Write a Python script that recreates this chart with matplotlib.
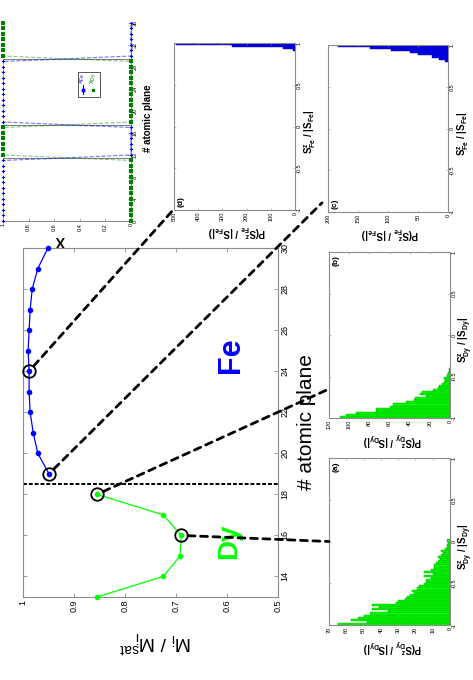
import numpy as np
import matplotlib
matplotlib.use('Agg')
import matplotlib.pyplot as plt
from matplotlib.patches import ConnectionPatch, Rectangle
from matplotlib.lines import Line2D

# ── style ────────────────────────────────────────────────────────────────────
plt.rcParams.update({
    'font.family':       'Liberation Sans',
    'mathtext.fontset':  'custom',
    'mathtext.rm':       'Liberation Sans',
    'mathtext.it':       'Liberation Sans:italic',
    'mathtext.bf':       'Liberation Sans:bold',
    'axes.edgecolor':    '#8c8c8c',
    'axes.linewidth':    0.8,
    'xtick.color':       '#8c8c8c',
    'ytick.color':       '#8c8c8c',
    'xtick.labelcolor':  'black',
    'ytick.labelcolor':  'black',
})

GREEN = (0, 1, 0)
BLUE = (0, 0, 1)
DKGREEN = '#008000'

# ── data: main profile M_i / M_i^sat ─────────────────────────────────────────
planes_dy = [13, 14, 15, 16, 17, 18]
m_dy = [0.855, 0.725, 0.692, 0.690, 0.725, 0.855]
planes_fe = [19, 20, 21, 22, 23, 24, 25, 26, 27, 28, 29, 30]
m_fe = [0.949, 0.971, 0.980, 0.986, 0.988, 0.988, 0.990, 0.988, 0.986, 0.982, 0.971, 0.951]
interface_plane = 18.5
circled_dy = [16, 18]
circled_fe = [19, 24]

# ── data: composition profile (inset) ────────────────────────────────────────
inset_planes = list(range(0, 37))
x_fe = [1] * 12 + [0] * 6 + [1] * 12 + [0] * 7
x_dy = [1 - v for v in x_fe]
inset_interfaces = [11.5, 17.5, 29.5]

# ── data: histograms P(S^z / |S|), bin width 0.025 ──────────────────────────
BIN_W = 0.025
hist_a = [65, 48, 57, 53, 50, 46, 36, 45, 41, 45, 31, 30, 26, 25, 23, 21, 22,
          19, 18, 15, 14, 14, 11, 15, 10, 15, 11, 9, 9, 8, 7, 6, 7, 5, 4, 5,
          3, 2, 2, 1, 2]                     # Dy plane 16, from S=-1
hist_b = [109, 103, 93, 73, 73, 60, 57, 44, 36, 35, 24, 30, 28, 17, 12, 11,
          8, 6, 5, 6, 3, 2, 1, 1]             # Dy plane 18, from S=-1
hist_c = [183, 130, 95, 63, 50, 27, 15, 5]    # Fe plane 19, from S=1 down
hist_d = [490, 262, 50, 10]                   # Fe plane 24, from S=1 down

fig = plt.figure(figsize=(4.73, 6.8), dpi=100)


def frac(x0, y0, x1, y1):
    W, H = 473.0, 680.0
    return [x0 / W, 1 - y1 / H, (x1 - x0) / W, (y1 - y0) / H]


# ── main panel ───────────────────────────────────────────────────────────────
ax = fig.add_axes(frac(23, 248, 278, 597))
ax.plot(m_dy, planes_dy, '-o', color=GREEN, ms=3, lw=0.9, clip_on=False, zorder=3)
ax.plot(m_fe, planes_fe, '-o', color=BLUE, ms=3, lw=0.9, clip_on=False, zorder=3)
ax.axhline(interface_plane, color='k', lw=1.4, ls=(0, (2, 1)), zorder=2)
for p in circled_dy:
    ax.plot(m_dy[planes_dy.index(p)], p, 'o', mfc='none', mec='k', ms=9, mew=1.3,
            clip_on=False, zorder=4)
for p in circled_fe:
    ax.plot(m_fe[planes_fe.index(p)], p, 'o', mfc='none', mec='k', ms=9, mew=1.3,
            clip_on=False, zorder=4)
ax.set_xlim(1, 0.5)
ax.set_ylim(13, 30)
ax.set_xticks([1, 0.9, 0.8, 0.7, 0.6, 0.5])
ax.set_xticklabels(['1', '0.9', '0.8', '0.7', '0.6', '0.5'])
ax.set_yticks(range(14, 31, 2))
ax.tick_params(direction='in', top=True, right=True, left=True, bottom=True,
               labelleft=False, labelright=True, length=3, width=0.6,
               labelsize=6.5, pad=2)
for t in ax.get_xticklabels():
    t.set_rotation(90)
for tk in ax.yaxis.get_major_ticks():
    tk.label2.set_rotation(90)
    tk.label2.set_verticalalignment('center')
ax.text(0.592, 24.8, 'Fe', color=BLUE, fontsize=22, fontweight='bold',
        rotation=90, ha='center', va='center')
ax.text(0.596, 15.7, 'Dy', color=GREEN, fontsize=20, fontweight='bold',
        rotation=90, ha='center', va='center')
ax.text(1.075, 0.5, '# atomic plane', transform=ax.transAxes, rotation=90,
        ha='left', va='center', fontsize=15)
ax.text(0.52, -0.09, r'$\mathrm{M_i\ /\ M_i^{sat}}$', transform=ax.transAxes,
        rotation=180, ha='center', va='top', fontsize=14)

# ── inset: composition ───────────────────────────────────────────────────────
axi = fig.add_axes(frac(3, 23, 131, 221))
for yv in inset_interfaces:
    axi.axhline(yv, color='#808080', lw=0.8, zorder=1)
axi.plot(x_fe, inset_planes, ls='--', color=BLUE, alpha=0.55, lw=0.8, zorder=2)
axi.plot(x_dy, inset_planes, ls='--', color=DKGREEN, alpha=0.45, lw=0.8, zorder=2)
axi.plot(x_fe, inset_planes, ls='none', marker='P', color=BLUE, ms=2.4, mew=0,
         clip_on=False, zorder=3)
axi.plot(x_dy, inset_planes, ls='none', marker='s', color=DKGREEN, ms=2.2, mew=0,
         clip_on=False, zorder=3)
axi.set_xlim(1, 0)
axi.set_ylim(0, 36)
axi.spines['top'].set_visible(False)
axi.spines['left'].set_visible(False)
axi.set_xticks([1, 0.8, 0.6, 0.4, 0.2, 0])
axi.set_xticklabels(['1', '0.8', '0.6', '0.4', '0.2', '0'])
axi.set_yticks(range(0, 37, 4))
axi.tick_params(direction='in', left=False, right=True, labelleft=False,
                labelright=True, length=2, width=0.5, labelsize=4, pad=1.5)
for t in axi.get_xticklabels():
    t.set_rotation(90)
for tk in axi.yaxis.get_major_ticks():
    tk.label2.set_rotation(90)
    tk.label2.set_verticalalignment('center')
axi.text(0.45, -0.06, 'X', transform=axi.transAxes, rotation=180,
         ha='center', va='top', fontsize=10, fontweight='bold')
axi.text(1.09, 0.52, '# atomic plane', transform=axi.transAxes, rotation=90,
         ha='left', va='center', fontsize=7, fontweight='bold')
# legend (drawn by hand, rotated with the figure)
axi.add_patch(Rectangle((0.586, 0.626), 0.172, 0.127, transform=axi.transAxes,
                        fill=False, ec='#555555', lw=0.7, zorder=5))
axi.add_line(Line2D([0.622, 0.622], [0.64, 0.685], transform=axi.transAxes,
                    color=BLUE, lw=0.8, zorder=5))
axi.plot([0.622], [0.662], 'o', color=BLUE, ms=2, transform=axi.transAxes, zorder=6)
axi.plot([0.70], [0.662], 's', color=DKGREEN, ms=2, transform=axi.transAxes, zorder=6)
axi.text(0.622, 0.69, r'$\mathrm{x_{Fe}}$', transform=axi.transAxes, rotation=90,
         ha='center', va='bottom', fontsize=5, color=BLUE)
axi.text(0.70, 0.69, r'$\mathrm{x_{Dy}}$', transform=axi.transAxes, rotation=90,
         ha='center', va='bottom', fontsize=5, color=DKGREEN)


# ── histograms ───────────────────────────────────────────────────────────────
def hist_panel(box, counts, start, step, pmax, pstep, fc, ec, species, tag, tag_top):
    h = fig.add_axes(frac(*box))
    centers = [start + step * (i + 0.5) for i in range(len(counts))]
    h.barh(centers, counts, height=abs(step), color=fc, edgecolor=ec, lw=0.3)
    h.set_xlim(pmax, 0)
    h.set_ylim(-1, 1)
    h.set_xticks(np.arange(0, pmax + 1, pstep))
    h.set_yticks([-1, -0.5, 0, 0.5, 1])
    h.set_yticklabels(['-1', '-0.5', '0', '0.5', '1'])
    h.tick_params(direction='in', top=True, right=True, left=True,
                  labelleft=False, labelright=True, length=1.5, width=0.4,
                  labelsize=4, pad=1.2)
    for t in h.get_xticklabels():
        t.set_rotation(90)
    for tk in h.yaxis.get_major_ticks():
        tk.label2.set_rotation(90)
        tk.label2.set_verticalalignment('center')
    h.text(0.52, -0.125, r'$\mathbf{P(S^z_{%s}\ /\ |S_{%s}|)}$' % (species, species),
           transform=h.transAxes, rotation=180, ha='center', va='center', fontsize=7)
    h.text(1.125, 0.47, r'$\mathbf{S^z_{%s}\ /\ |S_{%s}|}$' % (species, species),
           transform=h.transAxes, rotation=90, ha='center', va='center', fontsize=7)
    if tag_top:
        h.text(0.03, 0.98, tag, transform=h.transAxes, rotation=90,
               ha='left', va='top', fontsize=6, fontweight='bold')
    else:
        h.text(0.03, 0.02, tag, transform=h.transAxes, rotation=90,
               ha='left', va='bottom', fontsize=6, fontweight='bold')
    return h


ax_a = hist_panel((329, 458, 450, 625), hist_a, -1, BIN_W, 70, 10,
                  GREEN, '#00a000', 'Dy', '(a)', True)
ax_b = hist_panel((329, 252, 450, 418), hist_b, -1, BIN_W, 120, 20,
                  GREEN, '#00a000', 'Dy', '(b)', True)
ax_c = hist_panel((328, 45, 448, 212), hist_c, 1, -BIN_W, 200, 50,
                  BLUE, '#000080', 'Fe', '(c)', False)
ax_d = hist_panel((174, 43, 295, 210), hist_d, 1, -BIN_W, 500, 100,
                  BLUE, '#000080', 'Fe', '(d)', False)

# ── dashed connectors: circled planes -> their histograms ────────────────────
links = [
    (m_dy[planes_dy.index(16)], 16, ax_a, (0.0, 0.50)),
    (m_dy[planes_dy.index(18)], 18, ax_b, (0.0, 0.175)),
    (m_fe[planes_fe.index(19)], 19, ax_c, (-0.05, 0.055)),
    (m_fe[planes_fe.index(24)], 24, ax_d, (-0.02, -0.01)),
]
for mval, plane, hax, xyb in links:
    con = ConnectionPatch(xyA=(mval, plane), coordsA=ax.transData,
                          xyB=xyb, coordsB=hax.transAxes,
                          color='k', lw=2.0, ls=(0, (2.5, 2)),
                          shrinkA=5, shrinkB=0, zorder=10)
    fig.add_artist(con)

fig.savefig('out.png', dpi=100, facecolor='white')
